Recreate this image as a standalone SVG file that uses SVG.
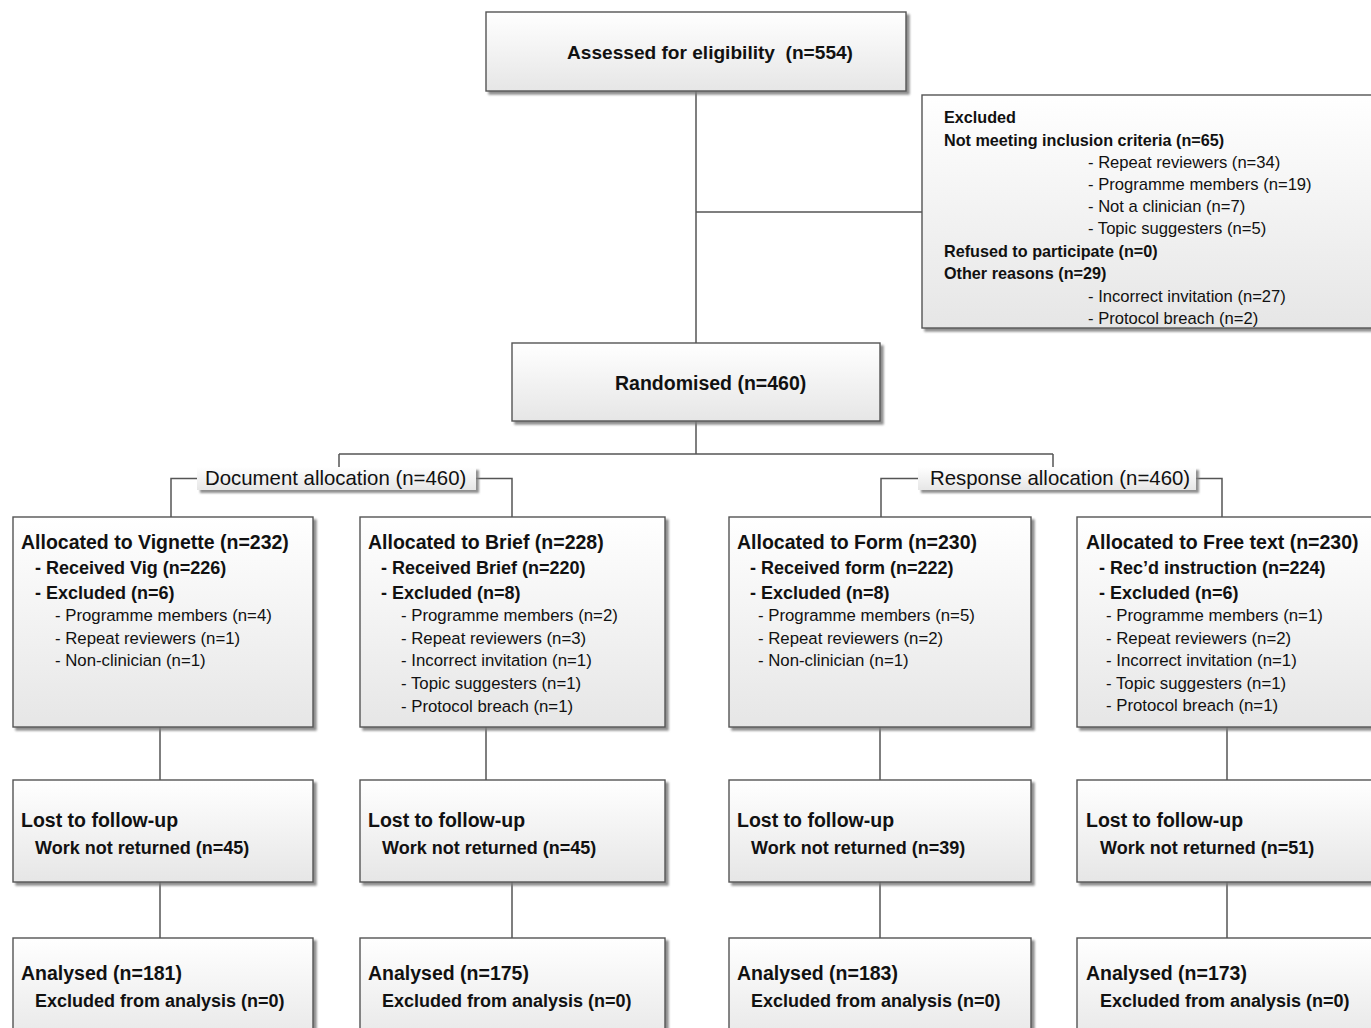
<svg xmlns="http://www.w3.org/2000/svg" width="1371" height="1028" viewBox="0 0 1371 1028">
<defs>
<linearGradient id="g" x1="0" y1="0" x2="0" y2="1">
<stop offset="0" stop-color="#ffffff"/>
<stop offset="1" stop-color="#e6e6e6"/>
</linearGradient>
<filter id="sh" x="-5%" y="-5%" width="115%" height="125%">
<feDropShadow dx="3" dy="3" stdDeviation="1.2" flood-color="#7a7a7a" flood-opacity="0.85"/>
</filter>
</defs>
<style>
.box{fill:url(#g);stroke:#555;stroke-width:1.4;filter:url(#sh)}
.lbl{fill:url(#g);stroke:none;filter:url(#sh)}
.c{fill:none;stroke:#555;stroke-width:1.5}
text{font-family:"Liberation Sans",Arial,sans-serif;fill:#111}
.t{font-size:19.5px;font-weight:bold}
.top{font-size:19.1px;font-weight:bold}
.s{font-size:18px;font-weight:bold}
.ss{font-size:16.8px}
.eh{font-size:16.2px;font-weight:bold}
.er{font-size:16.6px}
.la{font-size:20.4px}
</style>
<rect width="1371" height="1028" fill="#fff"/>
<g id="connectors">
<path class="c" d="M696 91V343M696 212H922"/>
<path class="c" d="M696 421V454M339 454H1053M339 454V468M1053 454V468"/>
<path class="c" d="M197 478.5H171V517M476 478.5H512V517"/>
<path class="c" d="M918 478.5H881V517M1196 478.5H1222V517"/>
<path class="c" d="M160 727V780M486 727V780M880 727V780M1227 727V780"/>
<path class="c" d="M160 882V938M512 882V938M880 882V938M1227 882V938"/>
</g>
<g id="assessed">
<rect class="box" x="486" y="12" width="420" height="79"/>
<text class="top" x="567" y="59" xml:space="preserve">Assessed for eligibility  (n=554)</text>
</g>
<g id="excluded">
<rect class="box" x="922" y="95" width="470" height="233"/>
<text class="eh" x="944" y="123">Excluded</text>
<text class="eh" x="944" y="146">Not meeting inclusion criteria (n=65)</text>
<text class="er" x="1088" y="168">- Repeat reviewers (n=34)</text>
<text class="er" x="1088" y="190">- Programme members (n=19)</text>
<text class="er" x="1088" y="212">- Not a clinician (n=7)</text>
<text class="er" x="1088" y="234">- Topic suggesters (n=5)</text>
<text class="eh" x="944" y="257">Refused to participate (n=0)</text>
<text class="eh" x="944" y="279">Other reasons (n=29)</text>
<text class="er" x="1088" y="302">- Incorrect invitation (n=27)</text>
<text class="er" x="1088" y="324">- Protocol breach (n=2)</text>
</g>
<g id="randomised">
<rect class="box" x="512" y="343" width="368" height="78"/>
<text class="t" x="615" y="390">Randomised (n=460)</text>
</g>
<g id="doc-alloc">
<rect class="lbl" x="197" y="467" width="279" height="23"/>
<text class="la" x="205" y="485">Document allocation (n=460)</text>
</g>
<g id="resp-alloc">
<rect class="lbl" x="918" y="467" width="278" height="23"/>
<text class="la" x="930" y="485">Response allocation (n=460)</text>
</g>
<g id="vignette">
<rect class="box" x="13" y="517" width="300" height="210"/>
<text class="t" x="21" y="549">Allocated to Vignette (n=232)</text>
<text class="s" x="35" y="574">- Received Vig (n=226)</text>
<text class="s" x="35" y="599">- Excluded (n=6)</text>
<text class="ss" x="55" y="621">- Programme members (n=4)</text>
<text class="ss" x="55" y="643.5">- Repeat reviewers (n=1)</text>
<text class="ss" x="55" y="666">- Non-clinician (n=1)</text>
</g>
<g id="brief">
<rect class="box" x="360" y="517" width="305" height="210"/>
<text class="t" x="368" y="549">Allocated to Brief (n=228)</text>
<text class="s" x="381" y="574">- Received Brief (n=220)</text>
<text class="s" x="381" y="599">- Excluded (n=8)</text>
<text class="ss" x="401" y="621">- Programme members (n=2)</text>
<text class="ss" x="401" y="643.5">- Repeat reviewers (n=3)</text>
<text class="ss" x="401" y="666">- Incorrect invitation (n=1)</text>
<text class="ss" x="401" y="689">- Topic suggesters (n=1)</text>
<text class="ss" x="401" y="712">- Protocol breach (n=1)</text>
</g>
<g id="form">
<rect class="box" x="729" y="517" width="302" height="210"/>
<text class="t" x="737" y="549">Allocated to Form (n=230)</text>
<text class="s" x="750" y="574">- Received form (n=222)</text>
<text class="s" x="750" y="599">- Excluded (n=8)</text>
<text class="ss" x="758" y="621">- Programme members (n=5)</text>
<text class="ss" x="758" y="643.5">- Repeat reviewers (n=2)</text>
<text class="ss" x="758" y="666">- Non-clinician (n=1)</text>
</g>
<g id="freetext">
<rect class="box" x="1077" y="517" width="310" height="210"/>
<text class="t" x="1086" y="549">Allocated to Free text (n=230)</text>
<text class="s" x="1099" y="574">- Rec’d instruction (n=224)</text>
<text class="s" x="1099" y="599">- Excluded (n=6)</text>
<text class="ss" x="1106" y="621">- Programme members (n=1)</text>
<text class="ss" x="1106" y="643.5">- Repeat reviewers (n=2)</text>
<text class="ss" x="1106" y="666">- Incorrect invitation (n=1)</text>
<text class="ss" x="1106" y="689">- Topic suggesters (n=1)</text>
<text class="ss" x="1106" y="711">- Protocol breach (n=1)</text>
</g>
<g id="lost-vignette">
<rect class="box" x="13" y="780" width="300" height="102"/>
<text class="t" x="21" y="827">Lost to follow-up</text>
<text class="s" x="35" y="854">Work not returned (n=45)</text>
</g>
<g id="lost-brief">
<rect class="box" x="360" y="780" width="305" height="102"/>
<text class="t" x="368" y="827">Lost to follow-up</text>
<text class="s" x="382" y="854">Work not returned (n=45)</text>
</g>
<g id="lost-form">
<rect class="box" x="729" y="780" width="302" height="102"/>
<text class="t" x="737" y="827">Lost to follow-up</text>
<text class="s" x="751" y="854">Work not returned (n=39)</text>
</g>
<g id="lost-freetext">
<rect class="box" x="1077" y="780" width="310" height="102"/>
<text class="t" x="1086" y="827">Lost to follow-up</text>
<text class="s" x="1100" y="854">Work not returned (n=51)</text>
</g>
<g id="analysed-vignette">
<rect class="box" x="13" y="938" width="300" height="110"/>
<text class="t" x="21" y="980">Analysed (n=181)</text>
<text class="s" x="35" y="1007">Excluded from analysis (n=0)</text>
</g>
<g id="analysed-brief">
<rect class="box" x="360" y="938" width="305" height="110"/>
<text class="t" x="368" y="980">Analysed (n=175)</text>
<text class="s" x="382" y="1007">Excluded from analysis (n=0)</text>
</g>
<g id="analysed-form">
<rect class="box" x="729" y="938" width="302" height="110"/>
<text class="t" x="737" y="980">Analysed (n=183)</text>
<text class="s" x="751" y="1007">Excluded from analysis (n=0)</text>
</g>
<g id="analysed-freetext">
<rect class="box" x="1077" y="938" width="310" height="110"/>
<text class="t" x="1086" y="980">Analysed (n=173)</text>
<text class="s" x="1100" y="1007">Excluded from analysis (n=0)</text>
</g>
</svg>
